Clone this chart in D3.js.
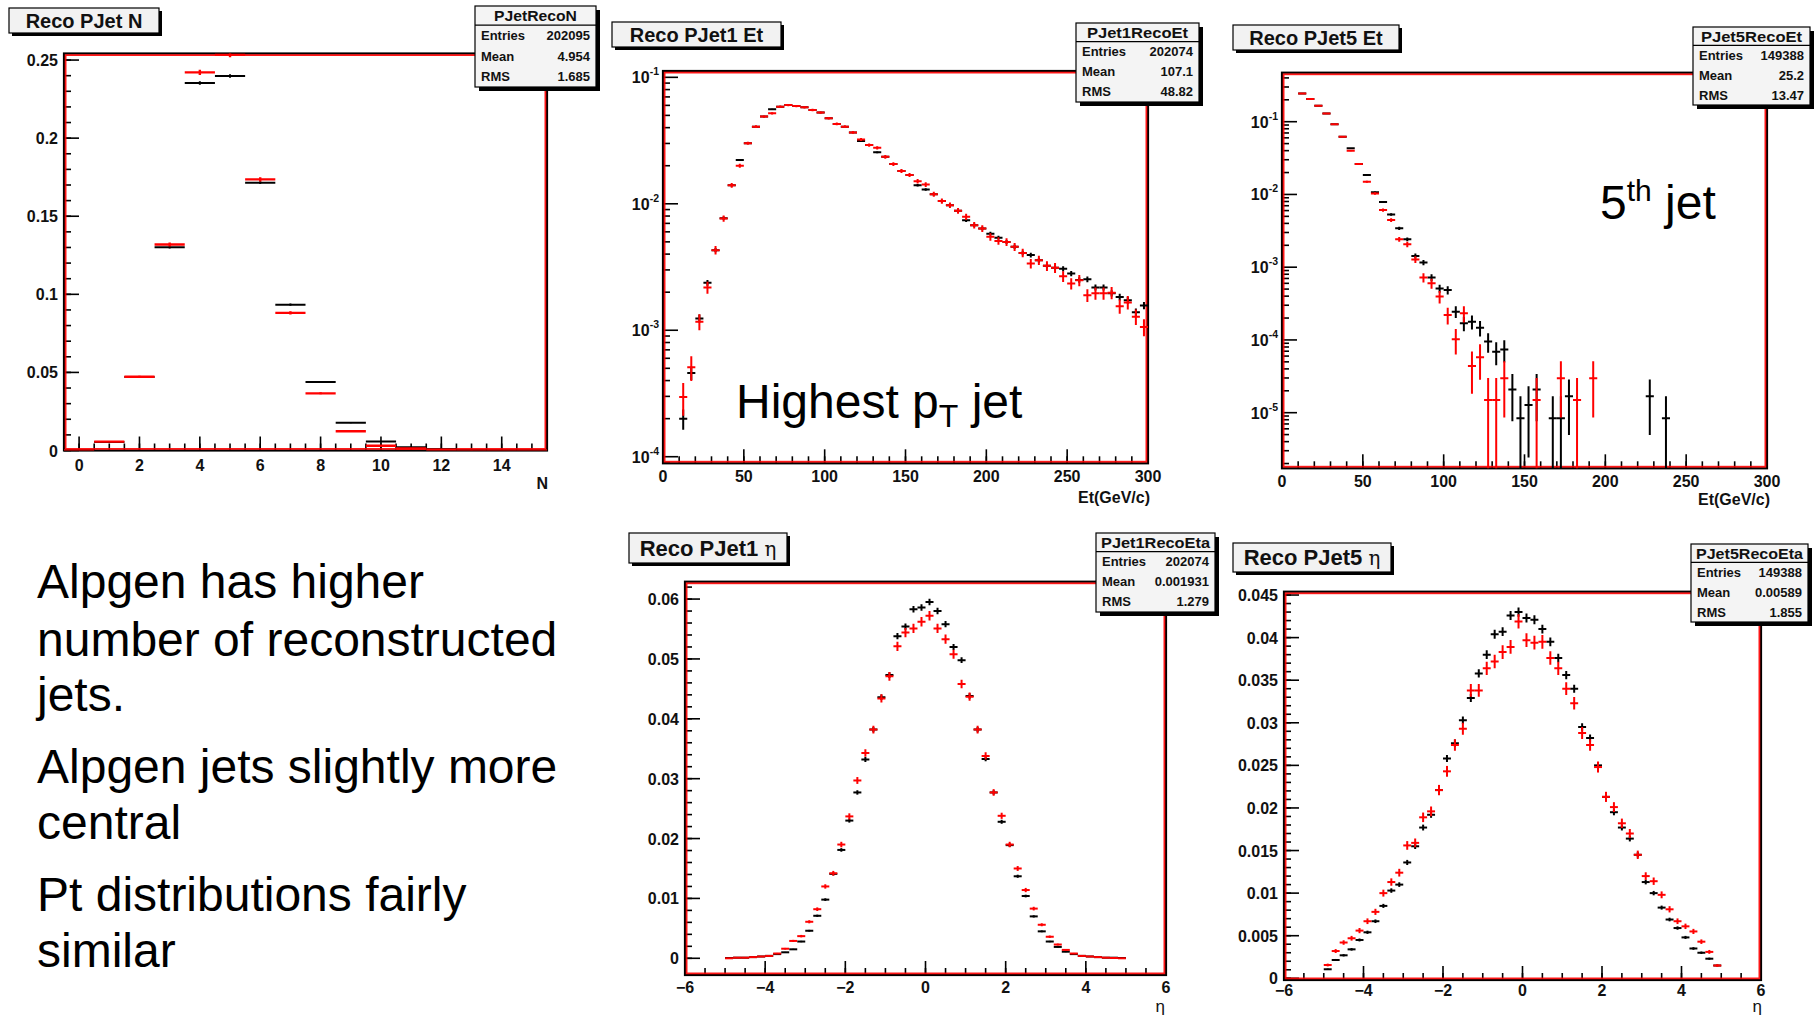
<!DOCTYPE html>
<html><head><meta charset="utf-8">
<script src="https://cdn.jsdelivr.net/npm/d3@7"></script>
<style>body{margin:0;background:#fff}svg{display:block}</style>
</head><body>
<svg id="c" width="1820" height="1015"></svg>
<script>
// ---------------- DATA ----------------
const nBins = [0,1,2,3,4,5,6,7,8,9,10,11,12,13,14,15];
const nBlack = [0,0.0055,0.047,0.1302,0.2353,0.2398,0.1715,0.0934,0.0438,0.0177,0.0057,0.0021,0.0006,0.0002,0,0];
const nRed   = [0,0.0057,0.0472,0.1319,0.2421,0.2535,0.1736,0.0881,0.0366,0.0123,0.0030,0.0013,0.0003,0.0001,0,0];

const etBins = [12.5,17.5,22.5,27.5,32.5,37.5,42.5,47.5,52.5,57.5,62.5,67.5,72.5,77.5,82.5,87.5,92.5,97.5,
  102.5,107.5,112.5,117.5,122.5,127.5,132.5,137.5,142.5,147.5,152.5,157.5,162.5,167.5,172.5,177.5,182.5,187.5,
  192.5,197.5,202.5,207.5,212.5,217.5,222.5,227.5,232.5,237.5,242.5,247.5,252.5,257.5,262.5,267.5,272.5,277.5,
  282.5,287.5,292.5,297.5];
const et1Black = [2.0e-4,4.6e-4,1.24e-3,2.37e-3,4.3e-3,7.7e-3,1.40e-2,2.22e-2,3.01e-2,4.07e-2,4.89e-2,5.58e-2,5.86e-2,6.04e-2,
  5.93e-2,5.79e-2,5.52e-2,5.26e-2,4.74e-2,4.28e-2,4.07e-2,3.67e-2,3.13e-2,2.91e-2,2.55e-2,2.35e-2,2.06e-2,1.82e-2,1.69e-2,
  1.40e-2,1.30e-2,1.19e-2,1.05e-2,9.75e-3,8.8e-3,7.4e-3,6.78e-3,6.38e-3,5.8e-3,5.4e-3,4.98e-3,4.57e-3,4.09e-3,3.93e-3,
  3.58e-3,3.23e-3,3.12e-3,3.06e-3,2.81e-3,2.50e-3,2.53e-3,2.18e-3,2.18e-3,1.96e-3,1.83e-3,1.73e-3,1.39e-3,1.57e-3];
const et1Red = [2.97e-4,5.1e-4,1.17e-3,2.18e-3,4.3e-3,7.66e-3,1.40e-2,2.0e-2,3.01e-2,4.07e-2,4.89e-2,5.19e-2,5.86e-2,6.04e-2,
  5.93e-2,5.79e-2,5.52e-2,5.26e-2,4.74e-2,4.28e-2,4.07e-2,3.67e-2,3.23e-2,2.91e-2,2.77e-2,2.35e-2,2.06e-2,1.82e-2,1.69e-2,
  1.51e-2,1.42e-2,1.19e-2,1.05e-2,9.75e-3,8.8e-3,7.9e-3,6.78e-3,6.38e-3,5.48e-3,5.09e-3,4.98e-3,4.57e-3,4.09e-3,3.37e-3,
  3.58e-3,3.23e-3,3.12e-3,2.67e-3,2.34e-3,2.48e-3,1.89e-3,1.96e-3,1.96e-3,1.98e-3,1.55e-3,1.66e-3,1.28e-3,1.06e-3];
const et5Black = [0.245,0.205,0.166,0.130,0.0919,0.0622,0.0430,0.0262,0.0185,0.0107,7.9e-3,5.3e-3,3.42e-3,2.42e-3,
  1.43e-3,1.16e-3,7.2e-4,5.1e-4,4.85e-4,2.45e-4,1.69e-4,1.78e-4,1.47e-4,9.5e-5,6.9e-5,7.4e-5,2.09e-5,8.4e-6,1.28e-5,
  2.09e-5,null,8.4e-6,8.4e-6,1.68e-5,null,null,null,null,null,null,null,null,null,1.68e-5,null,8.4e-6,
  null,null,null,null,null,null,null,null,null,null,null,null];
const et5Red = [0.245,0.205,0.166,0.130,0.0919,0.0622,0.0399,0.0262,0.0150,0.0103,6.1e-3,4.45e-3,2.42e-3,2.06e-3,
  1.28e-3,7.2e-4,6.0e-4,3.94e-4,2.2e-4,1.02e-4,2.32e-4,4.38e-5,5.77e-5,1.5e-5,1.5e-5,2.97e-5,null,null,null,
  1.5e-5,null,null,2.97e-5,null,1.5e-5,null,2.97e-5,null,null,null,null,null,null,null,null,null,
  null,null,null,null,null,null,null,null,null,null,null,null];

const etaBins = [-4.9,-4.7,-4.5,-4.3,-4.1,-3.9,-3.7,-3.5,-3.3,-3.1,-2.9,-2.7,-2.5,-2.3,-2.1,-1.9,-1.7,-1.5,-1.3,-1.1,
  -0.9,-0.7,-0.5,-0.3,-0.1,0.1,0.3,0.5,0.7,0.9,1.1,1.3,1.5,1.7,1.9,2.1,2.3,2.5,2.7,2.9,3.1,3.3,3.5,3.7,3.9,4.1,4.3,4.5,4.7,4.9];
const eta1Black = [0.00005,0.0001,0.0001,0.0002,0.0003,0.0004,0.0007,0.0010,0.0015,0.0028,0.0046,0.0071,0.0098,0.0141,
  0.0181,0.0230,0.0277,0.0332,0.0382,0.0436,0.0473,0.0538,0.0554,0.0583,0.0586,0.0595,0.0580,0.0558,0.0520,0.0498,
  0.0438,0.0382,0.0333,0.0277,0.0228,0.0189,0.0137,0.0104,0.0070,0.0045,0.0028,0.0019,0.0011,0.0007,0.0004,0.0003,
  0.0002,0.0001,0.0001,0.00005];
const eta1Red = [0,0.0001,0.0001,0.0002,0.0003,0.0004,0.0008,0.0016,0.0029,0.0037,0.0061,0.0082,0.0120,0.0142,
  0.0190,0.0237,0.0297,0.0343,0.0382,0.0434,0.0471,0.0521,0.0544,0.0551,0.0562,0.0572,0.0551,0.0533,0.0508,0.0458,
  0.0437,0.0382,0.0338,0.0277,0.0238,0.0190,0.0150,0.0114,0.0083,0.0056,0.0036,0.0023,0.0014,0.0008,0.0004,0.0003,
  0.0002,0.0001,0.00005,0];
const eta5Black = [0.00106,0.00215,0.0027,0.0034,0.0045,0.0054,0.0067,0.0085,0.0103,0.0110,0.0136,0.0155,0.0177,0.0192,
  0.0221,0.0258,0.0276,0.0303,0.0329,0.0358,0.0380,0.0404,0.0407,0.0426,0.0430,0.0423,0.0421,0.0410,0.0395,0.0376,
  0.0356,0.0340,0.0295,0.0282,0.0250,0.0213,0.0195,0.0177,0.0164,0.0145,0.0113,0.0100,0.0083,0.0069,0.0059,0.0048,
  0.0035,0.0030,0.0023,0.0015];
const eta5Red = [0.00156,0.0032,0.0042,0.0047,0.0056,0.0067,0.0078,0.0100,0.0113,0.0124,0.0156,0.0159,0.0189,0.0196,
  0.0221,0.0243,0.0274,0.0293,0.0338,0.0338,0.0364,0.0372,0.0383,0.0389,0.0419,0.0397,0.0394,0.0395,0.0376,0.0364,
  0.0340,0.0323,0.0288,0.0274,0.0248,0.0213,0.0201,0.0182,0.0170,0.0145,0.0120,0.0114,0.0098,0.0081,0.0067,0.0061,
  0.0055,0.0043,0.0031,0.0015];

// effective entries used for the statistical error bars (sqrt(v/N))
const neffN = [202095, 90000];
const neffEt1 = [150000, 40000];
const neffEt5 = [119000, 66700];
const neffEta1 = [202074, 90000];
const neffEta5 = [149388, 60000];

// tick labels
const nTicks = [0,2,4,6,8,10,12,14];
const nYTicks = [0,0.05,0.1,0.15,0.2,0.25];
const etTicks = [0,50,100,150,200,250,300];
const et1Decades = [-4,-3,-2,-1];
const et5Decades = [-5,-4,-3,-2,-1];
const etaTicks = [-6,-4,-2,0,2,4,6];
const eta1YTicks = [0,0.01,0.02,0.03,0.04,0.05,0.06];
const eta5YTicks = [0,0.005,0.01,0.015,0.02,0.025,0.03,0.035,0.04,0.045];

// stats boxes
const statsN = ["PJetRecoN","202095","4.954","1.685"];
const statsEt1 = ["PJet1RecoEt","202074","107.1","48.82"];
const statsEt5 = ["PJet5RecoEt","149388","25.2","13.47"];
const statsEta1 = ["PJet1RecoEta","202074","0.001931","1.279"];
const statsEta5 = ["PJet5RecoEta","149388","0.00589","1.855"];

const bulletLines = [
  ["Alpgen has higher", 598], ["number of reconstructed", 656], ["jets.", 711],
  ["Alpgen jets slightly more", 783], ["central", 839],
  ["Pt distributions fairly", 911], ["similar", 967]
];

// ---------------- DRAWING ----------------
const svg = d3.select("#c");
svg.append("rect").attr("width",1820).attr("height",1015).attr("fill","#fff");
const FONT = "'Liberation Sans', Arial, Helvetica, sans-serif";
const defs = svg.append("defs");
let clipId = 0;

function panel(cfg){
  const [L,T,R,B] = cfg.frame;
  const g = svg.append("g");
  const x = d3.scaleLinear().domain(cfg.xDomain).range([L,R]);
  const y = (cfg.log ? d3.scaleLog() : d3.scaleLinear()).domain(cfg.yDomain).range([B,T]);
  const id = "clip"+(clipId++);
  defs.append("clipPath").attr("id",id).append("rect").attr("x",L).attr("y",T).attr("width",R-L).attr("height",B-T);

  // ticks (inside the frame)
  const tk = g.append("g").attr("stroke","#000").attr("stroke-width",1.6);
  const xmin = [];
  for (let v = cfg.xMinor[0]; v <= cfg.xDomain[1]+1e-9; v += cfg.xMinor[1]) xmin.push(v);
  tk.selectAll(null).data(xmin).join("line")
    .attr("x1",d=>x(d)).attr("x2",d=>x(d)).attr("y1",B).attr("y2",B-7);
  tk.selectAll(null).data(cfg.xTicks).join("line")
    .attr("x1",d=>x(d)).attr("x2",d=>x(d)).attr("y1",B).attr("y2",B-14);
  if (cfg.log){
    const minors=[];
    for (let k = Math.floor(Math.log10(cfg.yDomain[0])); k <= 0; k++)
      for (let m=2;m<=9;m++){ const v=m*Math.pow(10,k); if(v>=cfg.yDomain[0]&&v<=cfg.yDomain[1]) minors.push(v); }
    tk.selectAll(null).data(minors).join("line")
      .attr("x1",L).attr("x2",L+7).attr("y1",d=>y(d)).attr("y2",d=>y(d));
    tk.selectAll(null).data(cfg.decades).join("line")
      .attr("x1",L).attr("x2",L+15).attr("y1",d=>y(Math.pow(10,d))).attr("y2",d=>y(Math.pow(10,d)));
  } else {
    const ymin=[];
    for (let v = cfg.yMinor[0]; v <= cfg.yDomain[1]+1e-12; v += cfg.yMinor[1]) if (v>=cfg.yDomain[0]) ymin.push(v);
    tk.selectAll(null).data(ymin).join("line")
      .attr("x1",L).attr("x2",L+7).attr("y1",d=>y(d)).attr("y2",d=>y(d));
    tk.selectAll(null).data(cfg.yTicks).join("line")
      .attr("x1",L).attr("x2",L+15).attr("y1",d=>y(d)).attr("y2",d=>y(d));
  }

  // tick labels
  const lab = g.append("g").attr("font-family",FONT).attr("font-weight","bold").attr("font-size",16).attr("fill","#111");
  lab.selectAll(null).data(cfg.xTicks).join("text")
    .attr("x",d=>x(d)).attr("y",B+cfg.xLabDy).attr("text-anchor","middle").text(d=>d3.format("")(d));
  if (cfg.log){
    const t = lab.selectAll(null).data(cfg.decades).join("text")
      .attr("x",L-4).attr("y",d=>y(Math.pow(10,d))+6).attr("text-anchor","end");
    t.append("tspan").text("10");
    t.append("tspan").attr("font-size",10.5).attr("dy",-8).text(d=>d);
  } else {
    lab.selectAll(null).data(cfg.yTicks).join("text")
      .attr("x",L-6).attr("y",d=>y(d)+6).attr("text-anchor","end").text(d=>d3.format("")(+d.toFixed(4)));
  }
  lab.append("text").attr("x",cfg.xTitle[0]).attr("y",cfg.xTitle[1]).attr("text-anchor","end")
    .attr("font-size",cfg.xTitle[3]||15).attr("font-weight",cfg.xTitle[4]||"bold").text(cfg.xTitle[2]);

  // frame: black with red frame on top (two histograms overlaid)
  g.append("rect").attr("x",L).attr("y",T).attr("width",R-L).attr("height",B-T)
    .attr("fill","none").attr("stroke","#000").attr("stroke-width",2.2);
  g.append("rect").attr("x",L+1.6).attr("y",T+1.6).attr("width",R-L-3.2).attr("height",B-T-3.2)
    .attr("fill","none").attr("stroke","#f00").attr("stroke-width",1.8).attr("stroke-opacity",0.9);

  // data points with error bars
  const data = g.append("g").attr("clip-path",`url(#${id})`);
  cfg.series.forEach((s)=>{
    const pts = cfg.bins.map((c,i)=>({c, v:s.values[i]})).filter(d=>d.v!==null);
    const sg = data.append("g").attr("stroke",s.color).attr("stroke-width",s.width||2);
    const lo = d=>{ const e=Math.sqrt(d.v/s.neff); let v=d.v-e; if(cfg.log && v<=cfg.yDomain[0]) v=cfg.yDomain[0]*0.5; return y(v); };
    const hi = d=>y(d.v+Math.sqrt(d.v/s.neff));
    sg.selectAll(null).data(pts).join("line")
      .attr("x1",d=>x(d.c-cfg.binW/2)).attr("x2",d=>x(d.c+cfg.binW/2))
      .attr("y1",d=>y(d.v)).attr("y2",d=>y(d.v));
    sg.selectAll(null).data(pts).join("line")
      .attr("x1",d=>x(d.c)).attr("x2",d=>x(d.c))
      .attr("y1",lo).attr("y2",hi);
  });

  // title box
  const [tx,ty,tw,th,tfs] = cfg.titleBox;
  svg.append("rect").attr("x",tx+3).attr("y",ty+3).attr("width",tw).attr("height",th).attr("fill","#000");
  svg.append("rect").attr("x",tx).attr("y",ty).attr("width",tw).attr("height",th).attr("fill","#f2f2f2").attr("stroke","#000").attr("stroke-width",1.2);
  const tt = svg.append("text").attr("x",tx+tw/2).attr("y",ty+th/2+tfs*0.36).attr("text-anchor","middle")
    .attr("font-family",FONT).attr("font-weight","bold").attr("font-size",tfs).attr("fill","#111");
  tt.append("tspan").text(cfg.title[0]);
  if (cfg.title[1]) tt.append("tspan").attr("font-weight","normal").attr("font-family","'DejaVu Serif', serif").attr("font-size",tfs*0.9).text(cfg.title[1]);

  // stats box
  const [sx,sy,sw,sh] = cfg.statsBox;
  const st = cfg.stats;
  svg.append("rect").attr("x",sx+4).attr("y",sy+4).attr("width",sw).attr("height",sh).attr("fill","#000");
  svg.append("rect").attr("x",sx).attr("y",sy).attr("width",sw).attr("height",sh).attr("fill","#f4f4f4").attr("stroke","#000").attr("stroke-width",1.2);
  const hh = sh*0.235;
  svg.append("line").attr("x1",sx).attr("x2",sx+sw).attr("y1",sy+hh).attr("y2",sy+hh).attr("stroke","#000").attr("stroke-width",1.2);
  const sg = svg.append("g").attr("font-family",FONT).attr("font-weight","bold").attr("fill","#111");
  sg.append("text").attr("x",sx+sw/2).attr("y",sy+hh/2+5.5).attr("text-anchor","middle").attr("font-size",15)
    .attr("textLength", Math.min(sw-10, st[0].length*9.2)).attr("lengthAdjust","spacingAndGlyphs").text(st[0]);
  const rowH = (sh-hh)/3;
  ["Entries","Mean","RMS"].forEach((k,i)=>{
    const yy = sy+hh+rowH*(i+0.5)+4.5;
    sg.append("text").attr("x",sx+6).attr("y",yy).attr("font-size",13).text(k);
    sg.append("text").attr("x",sx+sw-6).attr("y",yy).attr("font-size",13).attr("text-anchor","end").text(st[i+1]);
  });
}

panel({
  frame:[64,53.5,547,450.5], xDomain:[-0.5,15.5], yDomain:[0,0.2542], log:false,
  xTicks:nTicks, xMinor:[-0.5,0.5], yTicks:nYTicks, yMinor:[0,0.01], xLabDy:20,
  xTitle:[548,489,"N",16], bins:nBins, binW:1,
  series:[{values:nBlack,color:"#000",neff:neffN[0]},{values:nRed,color:"#f00",neff:neffN[1],width:2.4}],
  titleBox:[9,8,150,25,20], title:["Reco PJet N"], statsBox:[475,6,121,81], stats:statsN
});
panel({
  frame:[663,71,1148,463.3], xDomain:[0,300], yDomain:[8.87e-5,0.1122], log:true,
  xTicks:etTicks, xMinor:[0,10], decades:et1Decades, xLabDy:19,
  xTitle:[1150,503,"Et(GeV/c)",16], bins:etBins, binW:5,
  series:[{values:et1Black,color:"#000",neff:neffEt1[0]},{values:et1Red,color:"#f00",neff:neffEt1[1]}],
  titleBox:[612,22,169,25,20], title:["Reco PJet1 Et"], statsBox:[1076,23,123,79], stats:statsEt1
});
panel({
  frame:[1282,72.7,1767,468.3], xDomain:[0,300], yDomain:[1.72e-6,0.4716], log:true,
  xTicks:etTicks, xMinor:[0,10], decades:et5Decades, xLabDy:19,
  xTitle:[1770,505,"Et(GeV/c)",16], bins:etBins, binW:5,
  series:[{values:et5Black,color:"#000",neff:neffEt5[0]},{values:et5Red,color:"#f00",neff:neffEt5[1]}],
  titleBox:[1233,25,166,25,20], title:["Reco PJet5 Et"], statsBox:[1693,27,117,78], stats:statsEt5
});
panel({
  frame:[685,581.7,1166,975], xDomain:[-6,6], yDomain:[-0.00279,0.0629], log:false,
  xTicks:etaTicks, xMinor:[-6,0.5], yTicks:eta1YTicks, yMinor:[0,0.002], xLabDy:18,
  xTitle:[1165,1012,"η",17,"normal"], bins:etaBins, binW:0.2,
  series:[{values:eta1Black,color:"#000",neff:neffEta1[0]},{values:eta1Red,color:"#f00",neff:neffEta1[1]}],
  titleBox:[629,533,158,30,22], title:["Reco PJet1 ","η"], statsBox:[1096,533,119,79], stats:statsEta1
});
panel({
  frame:[1284,591.7,1761,980], xDomain:[-6,6], yDomain:[-0.0002,0.04539], log:false,
  xTicks:etaTicks, xMinor:[-6,0.5], yTicks:eta5YTicks, yMinor:[0,0.001], xLabDy:16,
  xTitle:[1762,1012,"η",17,"normal"], bins:etaBins, binW:0.2,
  series:[{values:eta5Black,color:"#000",neff:neffEta5[0]},{values:eta5Red,color:"#f00",neff:neffEta5[1]}],
  titleBox:[1233,543,158,29,22], title:["Reco PJet5 ","η"], statsBox:[1691,544,117,78], stats:statsEta5
});

// annotations
const ann = svg.append("g").attr("font-family",FONT).attr("fill","#000").attr("font-size",48);
const h = ann.append("text").attr("x",736).attr("y",418);
h.append("tspan").text("Highest p");
h.append("tspan").attr("font-size",32).attr("dy",9).text("T");
h.append("tspan").attr("dy",-9).text(" jet");
const f = ann.append("text").attr("x",1600).attr("y",219);
f.append("tspan").text("5");
f.append("tspan").attr("font-size",30).attr("dy",-18).text("th");
f.append("tspan").attr("dy",18).text(" jet");

ann.selectAll(null).data(bulletLines).join("text")
  .attr("x",37).attr("y",d=>d[1]).text(d=>d[0]);
</script>
</body></html>
